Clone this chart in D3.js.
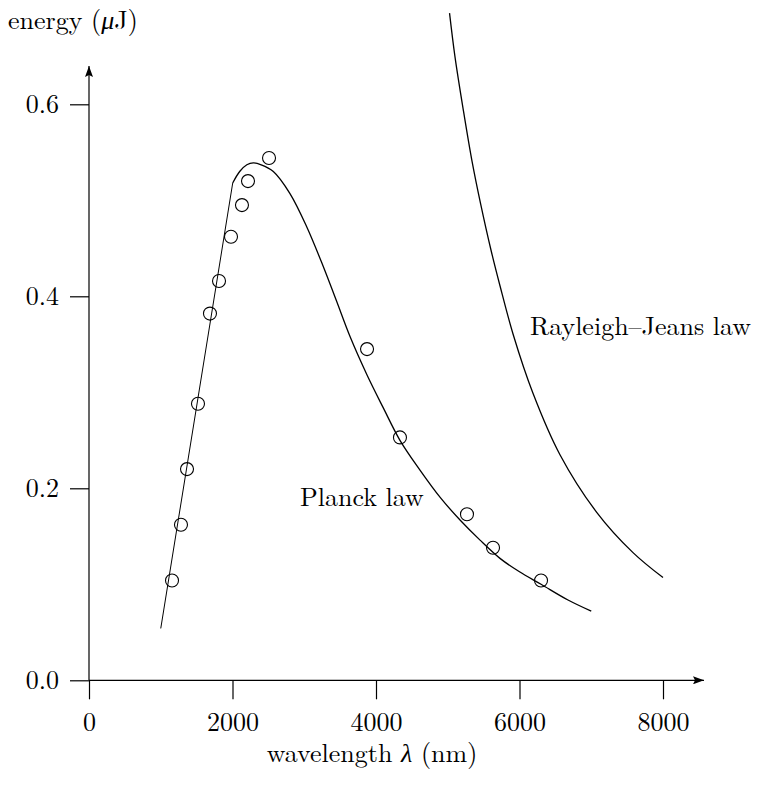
<!DOCTYPE html>
<html>
<head>
<meta charset="utf-8">
<script src="https://cdn.jsdelivr.net/npm/d3@7"></script>
<style>
  body { margin: 0; background: #fff; }
  text { font-family: "Latin Modern Roman", "CMU Serif", "Liberation Serif", serif; fill: #000; }
</style>
</head>
<body>
<script>
// tick values
var xTicks = [0, 2000, 4000, 6000, 8000];
var yTicks = [0, 0.2, 0.4, 0.6];

// measured points (circles)
var obsLambda = [1157, 1282, 1366, 1519, 1686, 1812, 1979, 2132, 2216, 2509, 3875, 4334, 5268, 5631, 6300];
var obsEnergy = [0.104, 0.162, 0.220, 0.288, 0.382, 0.416, 0.462, 0.495, 0.520, 0.544, 0.345, 0.253, 0.173, 0.138, 0.104];

// Planck law: straight rising part, then the rounded fall
var planckRiseLambda = [1000, 2003];
var planckRiseEnergy = [0.054, 0.518];
var planckLambda = [2003, 2100, 2200, 2290, 2400, 2569, 2801, 3034, 3265, 3450, 3638, 3875, 4100, 4334, 4613, 4900, 5171, 5450, 5728, 6000, 6300, 6676, 7000];
var planckEnergy = [0.518, 0.530, 0.537, 0.539, 0.537, 0.530, 0.507, 0.4725, 0.431, 0.395, 0.358, 0.318, 0.284, 0.250, 0.219, 0.190, 0.167, 0.146, 0.127, 0.113, 0.100, 0.0836, 0.072];

// Rayleigh-Jeans law curve
var rjLambda = [5025, 5100, 5217, 5340, 5459, 5600, 5728, 5913, 6188, 6564, 7076, 7582, 8000];
var rjEnergy = [0.695, 0.650, 0.594, 0.540, 0.496, 0.449, 0.411, 0.360, 0.299, 0.235, 0.175, 0.133, 0.107];

var svg = d3.select("body")
   .append("svg")
   .attr("width", 759)
   .attr("height", 786);

var xScale = d3.scaleLinear()
   .domain([0, 8000])
   .range([89, 663]);

var yScale = d3.scaleLinear()
   .domain([0, 0.6])
   .range([680.3, 104.3]);

var fontSize = 26;

// arrow heads
svg.append("defs").append("marker")
   .attr("id", "arrow")
   .attr("viewBox", "0 0 11 8")
   .attr("refX", 11).attr("refY", 4)
   .attr("markerWidth", 11).attr("markerHeight", 8)
   .attr("markerUnits", "userSpaceOnUse")
   .attr("orient", "auto")
   .append("path")
   .attr("d", "M0,0 L11,4 L0,8 L2,4 Z")
   .attr("fill", "#000");

// axis lines with arrows
svg.append("line")
   .attr("x1", xScale(0)).attr("y1", yScale(0))
   .attr("x2", 704).attr("y2", yScale(0))
   .attr("stroke", "#000").attr("stroke-width", 1.2)
   .attr("marker-end", "url(#arrow)");
svg.append("line")
   .attr("x1", xScale(0)).attr("y1", yScale(0))
   .attr("x2", xScale(0)).attr("y2", 66)
   .attr("stroke", "#000").attr("stroke-width", 1.2)
   .attr("marker-end", "url(#arrow)");

var xAxis = d3.axisBottom(xScale)
   .tickValues(xTicks)
   .tickSize(19)
   .tickFormat(d3.format("d"));
var gx = svg.append("g")
   .attr("transform", "translate(0," + yScale(0) + ")")
   .call(xAxis);
gx.select(".domain").remove();
gx.selectAll("line").attr("stroke", "#000").attr("stroke-width", 1.2);
gx.selectAll("text")
   .attr("font-size", fontSize)
   .attr("y", 51)
   .attr("dy", null)
   .style("font-family", null);

var yAxis = d3.axisLeft(yScale)
   .tickValues(yTicks)
   .tickSize(19)
   .tickPadding(11)
   .tickFormat(d3.format(".1f"));
var gy = svg.append("g")
   .attr("transform", "translate(" + xScale(0) + ",0)")
   .call(yAxis);
gy.select(".domain").remove();
gy.selectAll("line").attr("stroke", "#000").attr("stroke-width", 1.2);
gy.selectAll("text")
   .attr("font-size", fontSize)
   .attr("dy", "0.33em")
   .style("font-family", null);

// curves
var line = d3.line()
   .x(function(d){ return xScale(d[0]); })
   .y(function(d){ return yScale(d[1]); });

svg.append("path")
   .datum(d3.zip(planckRiseLambda, planckRiseEnergy))
   .attr("d", line.curve(d3.curveLinear))
   .attr("fill", "none")
   .attr("stroke", "#000")
   .attr("stroke-width", 1.0);

svg.append("path")
   .datum(d3.zip(planckLambda, planckEnergy))
   .attr("d", line.curve(d3.curveCatmullRom))
   .attr("fill", "none")
   .attr("stroke", "#000")
   .attr("stroke-width", 1.3);

svg.append("path")
   .datum(d3.zip(rjLambda, rjEnergy))
   .attr("d", line.curve(d3.curveCatmullRom))
   .attr("fill", "none")
   .attr("stroke", "#000")
   .attr("stroke-width", 1.3);

// measured points
svg.selectAll("circle")
   .data(d3.zip(obsLambda, obsEnergy))
   .enter()
   .append("circle")
   .attr("r", 6.5)
   .attr("cx", function(d){ return xScale(d[0]); })
   .attr("cy", function(d){ return yScale(d[1]); })
   .attr("fill", "none")
   .attr("stroke", "#000")
   .attr("stroke-width", 1.1);

// labels
var yTitle = svg.append("text")
   .attr("x", 8).attr("y", 29).attr("font-size", fontSize);
yTitle.append("tspan").text("energy (");
yTitle.append("tspan").text("μ").attr("font-style", "italic");
yTitle.append("tspan").text("J)");

var xTitle = svg.append("text")
   .attr("x", 372).attr("y", 762).attr("font-size", fontSize)
   .attr("text-anchor", "middle");
xTitle.append("tspan").text("wavelength ");
xTitle.append("tspan").text("λ").attr("font-style", "italic");
xTitle.append("tspan").text(" (nm)");

svg.append("text").text("Planck law")
   .attr("x", 300).attr("y", 506).attr("font-size", fontSize);
svg.append("text").text("Rayleigh–Jeans law")
   .attr("x", 530).attr("y", 335).attr("font-size", fontSize);
</script>
</body>
</html>
